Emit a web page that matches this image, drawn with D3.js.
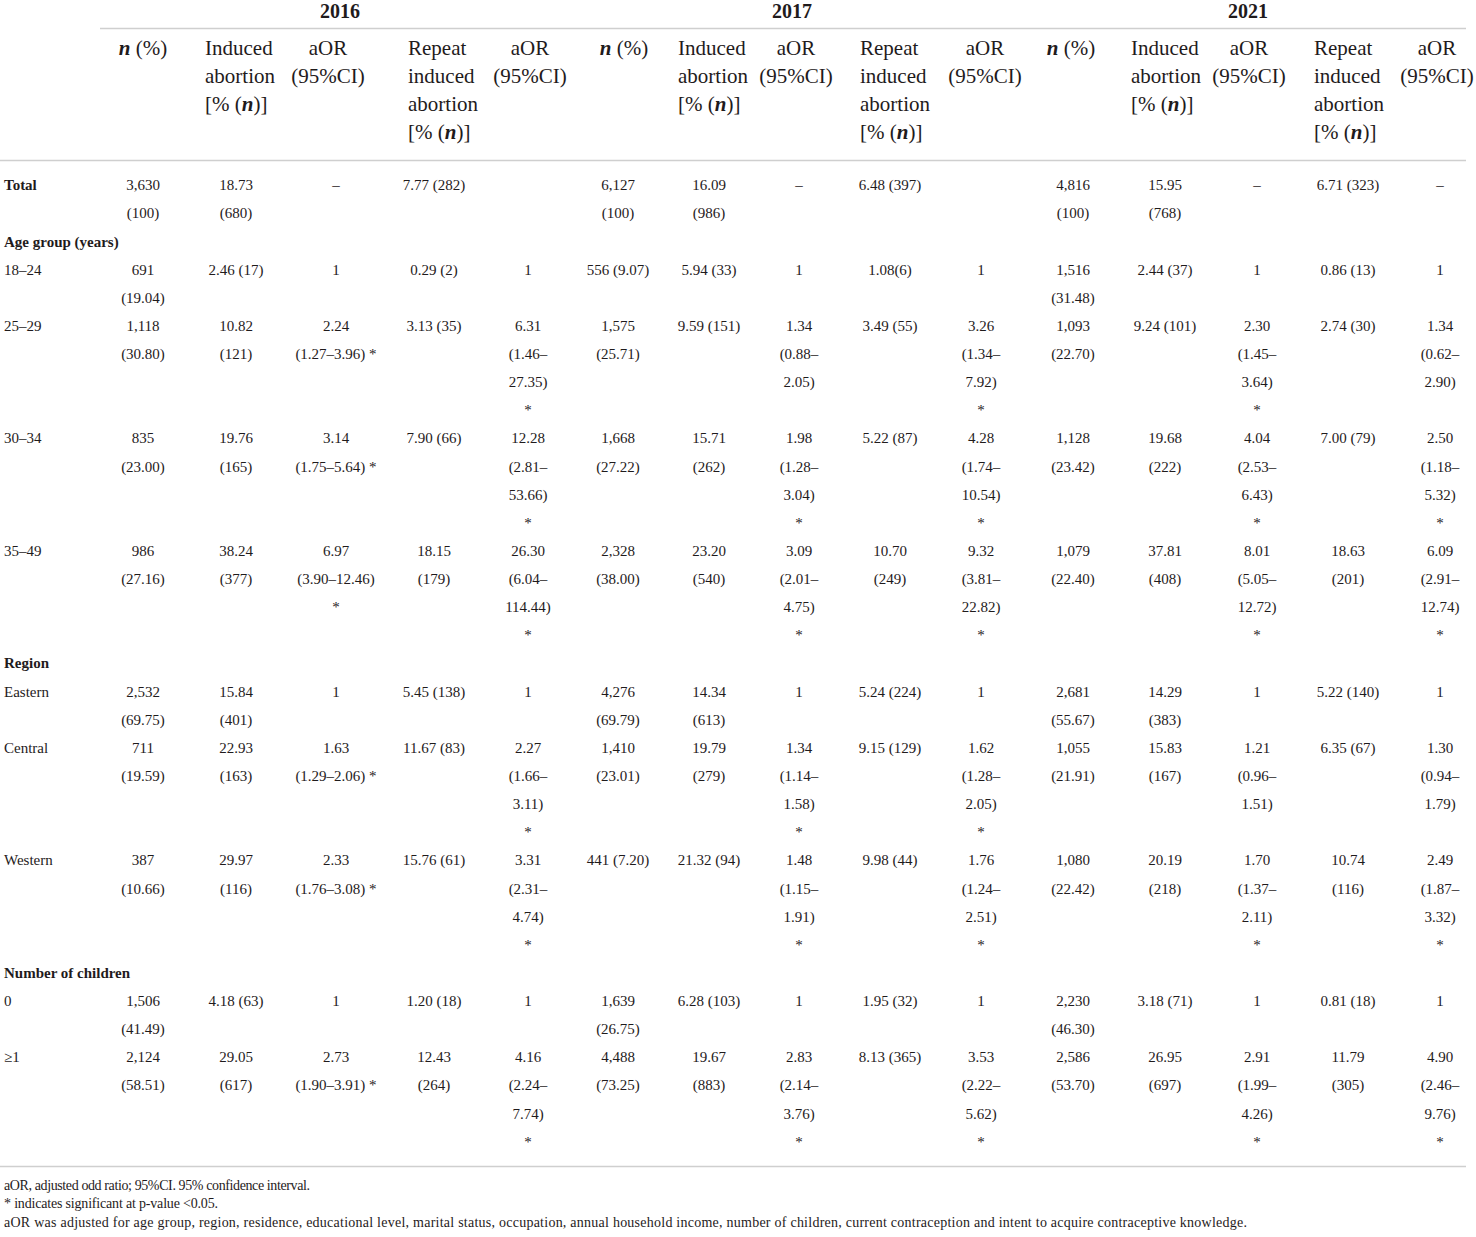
<!DOCTYPE html>
<html>
<head>
<meta charset="utf-8">
<script src="https://cdn.jsdelivr.net/npm/d3@7.9.0/dist/d3.min.js"></script>
<style>
  html, body { margin: 0; padding: 0; background: #fff; }
  svg { display: block; font-family: "Liberation Serif", "DejaVu Serif", serif; fill: #1f1b1c; }
</style>
</head>
<body>
<div id="table"></div>
<script>
// --- table content ---
const years = ['2016', '2017', '2021'];
const columnHeads = [
  ['n (%)'],
  ['Induced', 'abortion', '[% (n)]'],
  ['aOR', '(95%CI)'],
  ['Repeat', 'induced', 'abortion', '[% (n)]'],
  ['aOR', '(95%CI)']
];

// '|' marks a line break inside a cell
const rowLabels = ['Total', 'Age group (years)', '18–24', '25–29', '30–34', '35–49',
  'Region', 'Eastern', 'Central', 'Western', 'Number of children', '0', '≥1'];
const groupRows = ['Age group (years)', 'Region', 'Number of children'];

const cells2016 = [
  ['3,630|(100)', '18.73|(680)', '–', '7.77 (282)', ''],
  null,
  ['691|(19.04)', '2.46 (17)', '1', '0.29 (2)', '1'],
  ['1,118|(30.80)', '10.82|(121)', '2.24|(1.27–3.96) *', '3.13 (35)', '6.31|(1.46–|27.35)|*'],
  ['835|(23.00)', '19.76|(165)', '3.14|(1.75–5.64) *', '7.90 (66)', '12.28|(2.81–|53.66)|*'],
  ['986|(27.16)', '38.24|(377)', '6.97|(3.90–12.46)|*', '18.15|(179)', '26.30|(6.04–|114.44)|*'],
  null,
  ['2,532|(69.75)', '15.84|(401)', '1', '5.45 (138)', '1'],
  ['711|(19.59)', '22.93|(163)', '1.63|(1.29–2.06) *', '11.67 (83)', '2.27|(1.66–|3.11)|*'],
  ['387|(10.66)', '29.97|(116)', '2.33|(1.76–3.08) *', '15.76 (61)', '3.31|(2.31–|4.74)|*'],
  null,
  ['1,506|(41.49)', '4.18 (63)', '1', '1.20 (18)', '1'],
  ['2,124|(58.51)', '29.05|(617)', '2.73|(1.90–3.91) *', '12.43|(264)', '4.16|(2.24–|7.74)|*']
];
const cells2017 = [
  ['6,127|(100)', '16.09|(986)', '–', '6.48 (397)', ''],
  null,
  ['556 (9.07)', '5.94 (33)', '1', '1.08(6)', '1'],
  ['1,575|(25.71)', '9.59 (151)', '1.34|(0.88–|2.05)', '3.49 (55)', '3.26|(1.34–|7.92)|*'],
  ['1,668|(27.22)', '15.71|(262)', '1.98|(1.28–|3.04)|*', '5.22 (87)', '4.28|(1.74–|10.54)|*'],
  ['2,328|(38.00)', '23.20|(540)', '3.09|(2.01–|4.75)|*', '10.70|(249)', '9.32|(3.81–|22.82)|*'],
  null,
  ['4,276|(69.79)', '14.34|(613)', '1', '5.24 (224)', '1'],
  ['1,410|(23.01)', '19.79|(279)', '1.34|(1.14–|1.58)|*', '9.15 (129)', '1.62|(1.28–|2.05)|*'],
  ['441 (7.20)', '21.32 (94)', '1.48|(1.15–|1.91)|*', '9.98 (44)', '1.76|(1.24–|2.51)|*'],
  null,
  ['1,639|(26.75)', '6.28 (103)', '1', '1.95 (32)', '1'],
  ['4,488|(73.25)', '19.67|(883)', '2.83|(2.14–|3.76)|*', '8.13 (365)', '3.53|(2.22–|5.62)|*']
];
const cells2021 = [
  ['4,816|(100)', '15.95|(768)', '–', '6.71 (323)', '–'],
  null,
  ['1,516|(31.48)', '2.44 (37)', '1', '0.86 (13)', '1'],
  ['1,093|(22.70)', '9.24 (101)', '2.30|(1.45–|3.64)|*', '2.74 (30)', '1.34|(0.62–|2.90)'],
  ['1,128|(23.42)', '19.68|(222)', '4.04|(2.53–|6.43)|*', '7.00 (79)', '2.50|(1.18–|5.32)|*'],
  ['1,079|(22.40)', '37.81|(408)', '8.01|(5.05–|12.72)|*', '18.63|(201)', '6.09|(2.91–|12.74)|*'],
  null,
  ['2,681|(55.67)', '14.29|(383)', '1', '5.22 (140)', '1'],
  ['1,055|(21.91)', '15.83|(167)', '1.21|(0.96–|1.51)', '6.35 (67)', '1.30|(0.94–|1.79)'],
  ['1,080|(22.42)', '20.19|(218)', '1.70|(1.37–|2.11)|*', '10.74|(116)', '2.49|(1.87–|3.32)|*'],
  null,
  ['2,230|(46.30)', '3.18 (71)', '1', '0.81 (18)', '1'],
  ['2,586|(53.70)', '26.95|(697)', '2.91|(1.99–|4.26)|*', '11.79|(305)', '4.90|(2.46–|9.76)|*']
];
const footnotes = [
  'aOR, adjusted odd ratio; 95%CI. 95% confidence interval.',
  '* indicates significant at p-value <0.05.',
  'aOR was adjusted for age group, region, residence, educational level, marital status, occupation, annual household income, number of children, current contraception and intent to acquire contraceptive knowledge.'
];

// --- layout ---
const width = 1476, height = 1237;
const cellsByYear = [cells2016, cells2017, cells2021];

const svg = d3.select('#table').append('svg')
  .attr('width', width).attr('height', height)
  .attr('viewBox', `0 0 ${width} ${height}`);

// column centres for data cells, one list per year
const colCenters = [[143, 236, 336, 434, 528], [618, 709, 799, 890, 981], [1073, 1165, 1257, 1348, 1440]];
// header anchors: left-aligned multi-line heads use 'start'
const headX = [[143, 205, 328, 408, 530], [624, 678, 796, 860, 985], [1071, 1131, 1249, 1314, 1437]];
const headAnchor = ['middle', 'start', 'middle', 'start', 'middle'];
const yearX = d3.scaleOrdinal().domain(years).range([340, 792, 1248]);
// footnote widths to mimic the original typeface's set width
const footWidths = [306, 214, 1243];

const lineStep = 28.13;
const bodyTop = 185;
const y = d3.scaleLinear().domain([0, 1]).range([bodyTop, bodyTop + lineStep]);
const headY = d3.scaleLinear().domain([0, 1]).range([48, 76]);

// italic "n" in header texts
function writeRich(sel, str) {
  str.split(/(\bn\b)/).forEach(part => {
    if (!part) return;
    sel.append('tspan').text(part)
      .style('font-style', part === 'n' ? 'italic' : null)
      .style('font-weight', part === 'n' ? 'bold' : null);
  });
}

// rules
const rule = (x1, x2, yy) => svg.append('line')
  .attr('x1', x1).attr('x2', x2).attr('y1', yy).attr('y2', yy)
  .attr('stroke', '#cfcfcf').attr('stroke-width', 1.5);
rule(100, 1466, 28.5);
rule(0, 1466, 160.5);
rule(0, 1466, 1166.5);

// year heads
svg.append('g').selectAll('text').data(years).join('text')
  .attr('x', d => yearX(d)).attr('y', 11).attr('dy', '0.35em')
  .attr('text-anchor', 'middle')
  .style('font-size', '20px').style('font-weight', 'bold')
  .text(d => d);

// column heads
years.forEach((yr, yi) => {
  columnHeads.forEach((lines, ci) => {
    lines.forEach((ln, li) => {
      const t = svg.append('text')
        .attr('x', headX[yi][ci]).attr('y', headY(li)).attr('dy', '0.35em')
        .attr('text-anchor', headAnchor[ci])
        .style('font-size', '21px');
      writeRich(t, ln);
    });
  });
});

// body rows
let lineIdx = 0;
rowLabels.forEach((label, ri) => {
  const isGroup = groupRows.includes(label);
  svg.append('text')
    .attr('x', 4).attr('y', y(lineIdx)).attr('dy', '0.35em')
    .style('font-size', '15px')
    .style('font-weight', isGroup || label === 'Total' ? 'bold' : null)
    .text(label);
  let rowLines = 1;
  cellsByYear.forEach((cells, yi) => {
    const row = cells[ri];
    if (!row) return;
    row.forEach((cell, ci) => {
      if (!cell) return;
      const parts = cell.split('|');
      rowLines = Math.max(rowLines, parts.length);
      parts.forEach((p, pi) => {
        svg.append('text')
          .attr('x', colCenters[yi][ci]).attr('y', y(lineIdx + pi)).attr('dy', '0.35em')
          .attr('text-anchor', 'middle')
          .style('font-size', '15px')
          .text(p);
      });
    });
  });
  lineIdx += rowLines;
});

// footnotes
svg.append('g').selectAll('text').data(footnotes).join('text')
  .attr('x', 4).attr('y', (d, i) => 1185 + i * 18.5).attr('dy', '0.35em')
  .attr('textLength', (d, i) => footWidths[i])
  .attr('lengthAdjust', 'spacing')
  .style('font-size', '14px')
  .text(d => d);
</script>
</body>
</html>
